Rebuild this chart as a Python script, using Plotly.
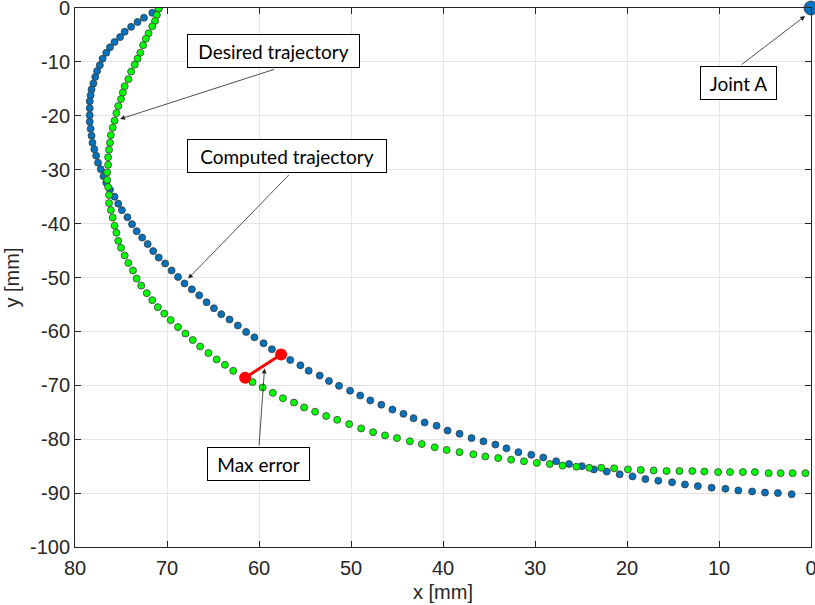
import plotly.graph_objects as go

# ---------------- data (mm) ----------------
desired_x = [70.9, 71.1, 71.3, 71.6, 72.0, 72.3, 72.6, 72.9, 73.2, 73.5,
             73.9, 74.2, 74.6, 74.8, 75.0, 75.3, 75.5, 75.7, 75.9, 76.1,
             76.2, 76.3, 76.4, 76.4, 76.5, 76.5, 76.4, 76.3, 76.3, 76.1,
             75.9, 75.7, 75.5, 75.3, 75.0, 74.6, 74.2, 73.7, 73.3, 72.8,
             72.2, 71.6, 71.0, 70.3, 69.6, 68.8, 68.0, 67.2, 66.4, 65.5,
             64.6, 63.7, 62.8, 61.7, 60.7, 59.6, 58.5, 57.4, 56.2, 55.1,
             53.9, 52.7, 51.5, 50.2, 48.9, 47.6, 46.3, 45.0, 43.6, 42.3,
             40.9, 39.6, 38.2, 36.7, 35.4, 34.0, 32.6, 31.2, 29.8, 28.4,
             27.0, 25.5, 24.1, 22.8, 21.4, 19.9, 18.5, 17.1, 15.7, 14.3,
             12.9, 11.6, 10.1, 8.8, 7.4, 6.1, 4.6, 3.3, 2.0, 0.6]
desired_y = [-0.1, -1.3, -2.4, -3.4, -4.7, -5.7, -6.9, -8.3, -9.4, -10.5,
             -11.8, -13.2, -14.5, -15.7, -16.9, -18.2, -19.5, -20.9, -22.2, -23.6,
             -25.0, -26.3, -27.7, -29.1, -30.5, -31.9, -33.2, -34.7, -36.2, -37.5,
             -38.9, -40.4, -41.7, -43.2, -44.5, -45.9, -47.3, -48.7, -50.2, -51.5,
             -52.9, -54.2, -55.5, -56.7, -57.9, -59.2, -60.4, -61.6, -62.8, -64.0,
             -65.2, -66.2, -67.3, -68.5, -69.4, -70.4, -71.4, -72.4, -73.2, -74.1,
             -74.9, -75.7, -76.4, -77.2, -78.0, -78.7, -79.3, -79.8, -80.4, -80.9,
             -81.5, -82.0, -82.4, -82.8, -83.2, -83.5, -83.8, -84.1, -84.4, -84.6,
             -84.9, -85.1, -85.3, -85.3, -85.4, -85.6, -85.7, -85.8, -85.9, -85.9,
             -85.9, -86.0, -86.1, -86.1, -86.1, -86.1, -86.3, -86.3, -86.3, -86.3]

computed_x = [70.9, 71.6, 72.5, 73.2, 73.9, 74.6, 75.1, 75.7, 76.2, 76.6,
              77.0, 77.3, 77.6, 77.8, 78.0, 78.2, 78.3, 78.4, 78.4, 78.4,
              78.4, 78.3, 78.2, 78.1, 77.9, 77.7, 77.5, 77.2, 76.9, 76.6,
              76.2, 75.7, 75.3, 74.9, 74.3, 73.8, 73.3, 72.7, 72.1, 71.5,
              70.9, 70.2, 69.5, 68.8, 68.1, 67.3, 66.5, 65.7, 64.9, 64.1,
              63.2, 62.3, 61.4, 60.5, 59.5, 58.6, 57.6, 56.6, 55.5, 54.6,
              53.4, 52.4, 51.3, 50.1, 49.0, 47.9, 46.7, 45.5, 44.3, 43.2,
              42.0, 40.7, 39.5, 38.2, 36.9, 35.6, 34.3, 33.1, 31.8, 30.4,
              29.1, 27.7, 26.3, 24.9, 23.6, 22.2, 20.8, 19.4, 18.0, 16.6,
              15.1, 13.7, 12.3, 10.8, 9.3, 7.9, 6.4, 5.0, 3.6, 2.1]
computed_y = [-0.1, -0.9, -1.8, -2.6, -3.5, -4.4, -5.4, -6.3, -7.3, -8.3,
              -9.4, -10.6, -11.7, -12.8, -14.0, -15.1, -16.2, -17.3, -18.6, -19.9,
              -21.1, -22.4, -23.7, -25.0, -26.2, -27.4, -28.7, -29.9, -31.2, -32.4,
              -33.7, -35.0, -36.3, -37.5, -38.8, -40.1, -41.4, -42.6, -43.8, -45.1,
              -46.3, -47.4, -48.7, -49.9, -51.1, -52.2, -53.3, -54.6, -55.7, -56.8,
              -57.8, -58.9, -60.1, -61.1, -62.2, -63.3, -64.3, -65.3, -66.3, -67.3,
              -68.2, -69.2, -70.1, -71.0, -71.9, -72.8, -73.6, -74.5, -75.3, -76.1,
              -76.9, -77.5, -78.4, -79.0, -79.8, -80.4, -81.0, -81.7, -82.4, -82.9,
              -83.4, -84.1, -84.6, -85.0, -85.6, -86.0, -86.5, -86.9, -87.4, -87.7,
              -88.0, -88.4, -88.7, -89.0, -89.2, -89.5, -89.7, -89.9, -90.0, -90.2]

max_error_x = [61.5, 57.6]
max_error_y = [-68.6, -64.3]

joint_a_x = [0.0]
joint_a_y = [0.0]

x_ticks = [80, 70, 60, 50, 40, 30, 20, 10, 0]
y_ticks = [0, -10, -20, -30, -40, -50, -60, -70, -80, -90, -100]
x_tick_labels = [str(v) for v in x_ticks]
y_tick_labels = [str(v) for v in y_ticks]

# ---------------- figure ----------------
BLUE = "#0072BD"
GREEN = "#00FF00"
EDGE = "#3c3c3c"
AXC = "#262626"
TICKFONT = dict(family="Liberation Sans, Arial, sans-serif", size=20, color=AXC)
BOXFONT = dict(family="Lato, Carlito, Calibri, sans-serif", size=19, color="black")

fig = go.Figure()
fig.add_trace(go.Scatter(x=computed_x, y=computed_y, mode="markers", name="Computed",
                         marker=dict(size=7, color=BLUE, line=dict(color=EDGE, width=0.8))))
fig.add_trace(go.Scatter(x=desired_x, y=desired_y, mode="markers", name="Desired",
                         marker=dict(size=7, color=GREEN, line=dict(color=EDGE, width=0.8))))
fig.add_trace(go.Scatter(x=max_error_x, y=max_error_y, mode="lines+markers", name="Max error",
                         line=dict(color="#FF0000", width=3),
                         marker=dict(size=12, color="#FF0000")))
fig.add_trace(go.Scatter(x=joint_a_x, y=joint_a_y, mode="markers", name="Joint A",
                         cliponaxis=False,
                         marker=dict(size=14, color=BLUE, line=dict(color=EDGE, width=0.8))))

def arrow(tip_x, tip_y, tail_x, tail_y):
    return dict(x=tip_x, y=tip_y, ax=tail_x, ay=tail_y, xref="x", yref="y",
                axref="x", ayref="y", text="", showarrow=True, arrowhead=2,
                arrowsize=1.2, arrowwidth=0.8, arrowcolor="#222222",
                standoff=0, startstandoff=0)

def box(cx, cy, label, w, h):
    return dict(x=cx, y=cy, xref="x", yref="y", text=label, showarrow=False,
                bordercolor="black", borderwidth=1, borderpad=0, bgcolor="white",
                width=w, height=h, font=BOXFONT, xanchor="center", yanchor="middle")

annotations = [
    arrow(75.1, -20.6, 58.2, -11.3),
    arrow(67.7, -50.2, 56.6, -30.7),
    arrow(0.65, -1.5, 7.7, -10.7),
    arrow(59.4, -66.9, 60.0, -81.4),
    box(58.4, -8.0, "Desired trajectory", 171, 32),
    box(57.0, -27.55, "Computed trajectory", 198, 32),
    box(7.9, -13.9, "Joint A", 75, 32),
    box(60.1, -84.6, "Max error", 101, 32),
]

fig.update_layout(
    width=815, height=605,
    margin=dict(l=75, r=4, t=8, b=58, autoexpand=False),
    paper_bgcolor="white", plot_bgcolor="white",
    showlegend=False,
    annotations=annotations,
    xaxis=dict(range=[80, 0], tickvals=x_ticks, ticktext=x_tick_labels,
               ticks="inside", ticklen=6, ticklabeloverflow="allow",
               ticklabelstandoff=3,
               tickcolor=AXC, showline=True, linecolor=AXC, linewidth=1,
               mirror="ticks", showgrid=True, gridcolor="#e3e3e3", gridwidth=1,
               zeroline=False, tickfont=TICKFONT, automargin=False,
               title=dict(text="x [mm]", font=TICKFONT, standoff=6)),
    yaxis=dict(range=[-100, 0], tickvals=y_ticks, ticktext=y_tick_labels,
               ticks="inside", ticklen=6, ticklabeloverflow="allow",
               tickcolor=AXC, showline=True, linecolor=AXC, linewidth=1,
               mirror="ticks", showgrid=True, gridcolor="#e3e3e3", gridwidth=1,
               zeroline=False, tickfont=TICKFONT, automargin=False,
               title=dict(text="y [mm]", font=TICKFONT, standoff=4)),
)

fig.write_html("out.html", config={"displayModeBar": False},
               post_script="document.body.style.margin='0';document.body.style.overflow='hidden';")
